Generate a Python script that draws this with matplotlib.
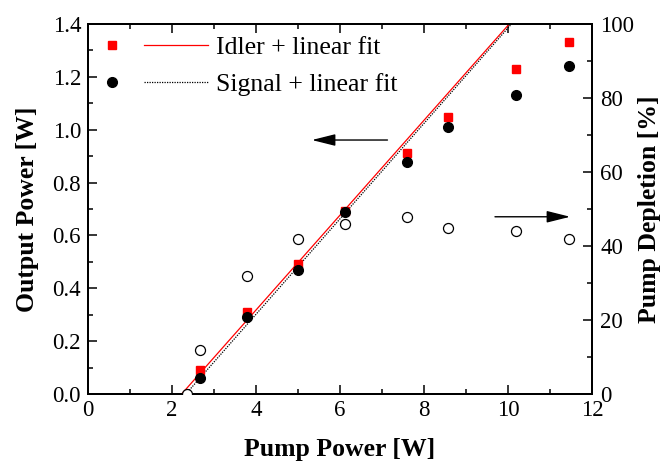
import matplotlib
matplotlib.use("Agg")
import matplotlib.pyplot as plt
import numpy as np
from matplotlib.legend_handler import HandlerTuple
from matplotlib.lines import Line2D
from matplotlib.ticker import MultipleLocator

# values
pump = [2.67, 3.79, 5.01, 6.12, 7.59, 8.58, 10.19, 11.45]
idler = [0.09, 0.309, 0.492, 0.694, 0.911, 1.049, 1.23, 1.331]
signal = [0.059, 0.29, 0.469, 0.687, 0.879, 1.011, 1.13, 1.241]

pump_dep = [2.35, 2.67, 3.79, 5.01, 6.12, 7.59, 8.58, 10.19, 11.45]
depletion = [0.0, 11.9, 32.0, 42.0, 45.9, 47.9, 44.9, 44.1, 42.0]

# linear fits: threshold [W] and slope efficiency
idler_fit = (2.23, 0.1795)
signal_fit = (2.33, 0.1806)

plt.rcParams['font.family'] = ['Liberation Serif', 'DejaVu Serif']

fig = plt.figure(figsize=(6.65, 4.65), dpi=100)
ax = fig.add_axes([88 / 665, 71 / 465, 504 / 665, 370 / 465])
ax2 = ax.twinx()

xf = np.array([idler_fit[0], 12.5])
ax.plot(xf, idler_fit[1] * (xf - idler_fit[0]), color='red', lw=0.9, zorder=2)
xs = np.array([signal_fit[0], 12.5])
ax.plot(xs, signal_fit[1] * (xs - signal_fit[0]), color='black', lw=0.9,
        ls=(0, (1, 1)), zorder=2)

ax.plot(pump, idler, 's', color='red', ms=6.3, mec='red', zorder=3)
ax.plot(pump, signal, 'o', color='black', ms=7, zorder=4)

ax2.plot(pump_dep, depletion, 'o', mfc='white', mec='black', mew=0.9, ms=7.2,
         zorder=5)

# arrows pointing to the axis each series belongs to
ax.annotate('', xy=(5.33, 0.961), xytext=(7.13, 0.961),
            arrowprops=dict(arrowstyle='-|>,head_length=0.8,head_width=0.2',
                            color='black', lw=1.0, mutation_scale=18,
                            shrinkA=0, shrinkB=0))
ax2.annotate('', xy=(11.48, 47.9), xytext=(9.69, 47.9),
             arrowprops=dict(arrowstyle='-|>,head_length=0.8,head_width=0.2',
                             color='black', lw=1.0, mutation_scale=18,
                             shrinkA=0, shrinkB=0))

ax.set_xlim(0, 12)
ax.set_ylim(0, 1.4)
ax2.set_ylim(0, 100)

ax.xaxis.set_major_locator(MultipleLocator(2))
ax.xaxis.set_minor_locator(MultipleLocator(1))
ax.yaxis.set_major_locator(MultipleLocator(0.2))
ax.yaxis.set_minor_locator(MultipleLocator(0.1))
ax2.yaxis.set_major_locator(MultipleLocator(20))
ax2.yaxis.set_minor_locator(MultipleLocator(10))
ax.yaxis.set_major_formatter(plt.FormatStrFormatter('%.1f'))

ax.tick_params(axis='x', which='both', direction='in', top=True, labelsize=16.5, pad=4.5)
ax.tick_params(axis='y', which='both', direction='in', right=False, labelsize=16.5, pad=5)
ax2.tick_params(axis='y', which='both', direction='in', labelsize=16.5, pad=6)
for a in (ax, ax2):
    a.tick_params(which='major', length=6.5, width=1.1)
    a.tick_params(which='minor', length=3.6, width=1.1)
    for s in a.spines.values():
        s.set_linewidth(1.4)

ax.set_xlabel('Pump Power [W]', fontsize=18.5, fontweight='bold', labelpad=12)
ax.set_ylabel('Output Power [W]', fontsize=18.5, fontweight='bold', labelpad=10)
ax2.set_ylabel('Pump Depletion [%]', fontsize=18.5, fontweight='bold', labelpad=3)

h_idler = (Line2D([], [], ls='none', marker='s', color='red', ms=6.3),
           Line2D([], [], color='red', lw=0.9))
h_signal = (Line2D([], [], ls='none', marker='o', color='black', ms=7),
            Line2D([], [], color='black', lw=0.9, ls=(0, (1, 1))))
ax.legend([h_idler, h_signal], ['Idler + linear fit', 'Signal + linear fit'],
          handler_map={tuple: HandlerTuple(ndivide=2, pad=0)},
          loc='upper left', bbox_to_anchor=(-0.016, 0.968), borderaxespad=0,
          borderpad=0, frameon=False, fontsize=18.5, handlelength=5.0,
          handletextpad=0.3, labelspacing=0.55)

fig.savefig('out.png', dpi=100)
